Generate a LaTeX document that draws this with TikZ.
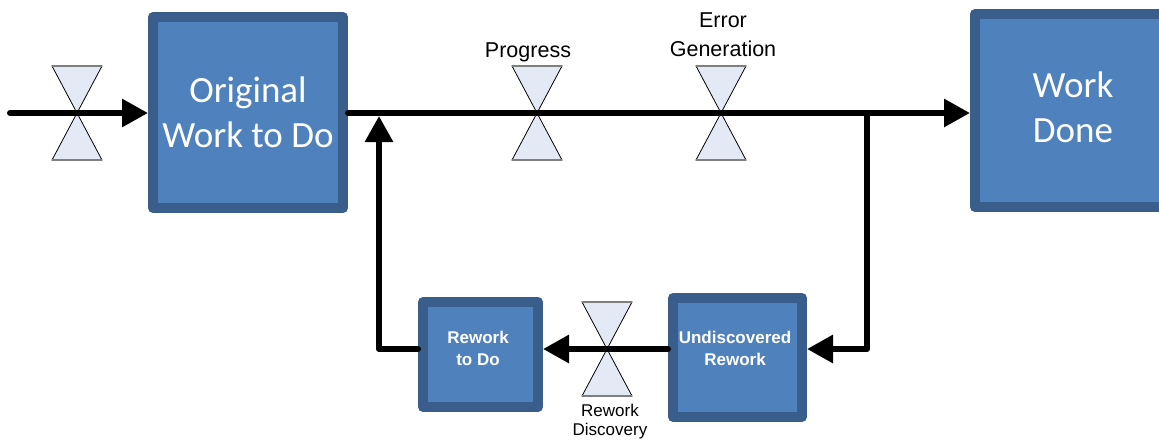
\documentclass[tikz,border=0pt]{standalone}
\usepackage{fontspec}
\setmainfont{Liberation Sans}
\newfontfamily\calfont{Carlito}
\usetikzlibrary{arrows.meta}
\definecolor{stockedge}{HTML}{3A5E8C}
\definecolor{stockfill}{HTML}{4F81BD}
\definecolor{valvefill}{HTML}{E4EAF5}
\definecolor{valverim}{HTML}{7F7F7F}
\begin{document}
\begin{tikzpicture}[x=1pt,y=-1pt,
  stock/.style={rectangle, draw=stockedge, fill=stockfill, line width=10pt,
    line join=round, inner sep=0pt},
  bigtext/.style={text=white, font=\calfont\fontsize{37}{45}\selectfont,
    align=center, inner sep=0pt},
  smalltext/.style={text=white, font=\bfseries\fontsize{17}{22}\selectfont,
    align=center, inner sep=0pt},
  flowlabel/.style={font=\fontsize{21.5}{29}\selectfont, align=center, inner sep=0pt},
  pipe/.style={line width=6pt, line cap=round, line join=round},
  flow/.style={pipe, -{Triangle[length=26pt,width=27pt]}},
  valvetri/.style={fill=valvefill, draw=black, line width=0.8pt},
  pics/valve/.style={code={
    \filldraw[valvetri] (-25,-47) -- (25,-47) -- (0,0) -- cycle;
    \filldraw[valvetri] (-25,47) -- (25,47) -- (0,0) -- cycle;
    \draw[valverim, line width=1.6pt] (-25,-47) -- (25,-47);
    \draw[valverim, line width=1.6pt] (-25,47) -- (25,47);
  }}]
\useasboundingbox (0,0) rectangle (1159,440);
\clip (0,0) rectangle (1159,440);

% stocks
\node[stock, minimum width=190pt, minimum height=191pt] (orig) at (248,112.5) {};
\node[stock, minimum width=196pt, minimum height=193pt] (done) at (1073,110.5) {};
\node[stock, minimum width=115pt, minimum height=105pt] (rtd) at (480.5,354.5) {};
\node[stock, minimum width=129pt, minimum height=119pt] (und) at (737.5,357.5) {};

\node[bigtext] (orig-t) at (248,112) {Original\\Work to Do};
\node[bigtext] (done-t) at (1073,107) {Work\\Done};
\node[smalltext] (rtd-t) at (478,348) {Rework\\to Do};
\node[smalltext] (und-t) at (735,348) {Undiscovered\\Rework};

% valves
\coordinate (v0) at (77,113);
\coordinate (v1) at (537,113);
\coordinate (v2) at (721,113);
\coordinate (v3) at (607,349);
\pic at (v0) {valve};
\pic at (v1) {valve};
\pic at (v2) {valve};
\pic at (v3) {valve};

% helper points of the pipes
\coordinate (src) at (10,113);
\coordinate (split) at (867,113);
\coordinate (merge) at (379,116);

% flows
\draw[flow] (src) -- (src -| orig.west);
\draw[flow] (v1 -| orig.east) -- (v1 -| done.west);
\draw[flow] (split) |- (v3 -| und.east);
\draw[flow] (v3 -| und.west) -- (v3 -| rtd.east);
\draw[flow] (v3 -| rtd.west) -| (merge);

% flow labels
\node[flowlabel, anchor=base] (lprog) at (528,57) {Progress};
\node[flowlabel] (lerr) at (723,35) {Error\\Generation};
\node[font=\fontsize{17}{19}\selectfont, align=center, inner sep=0pt] (ldisc) at (610,422) {Rework\\Discovery};
\end{tikzpicture}
\end{document}
